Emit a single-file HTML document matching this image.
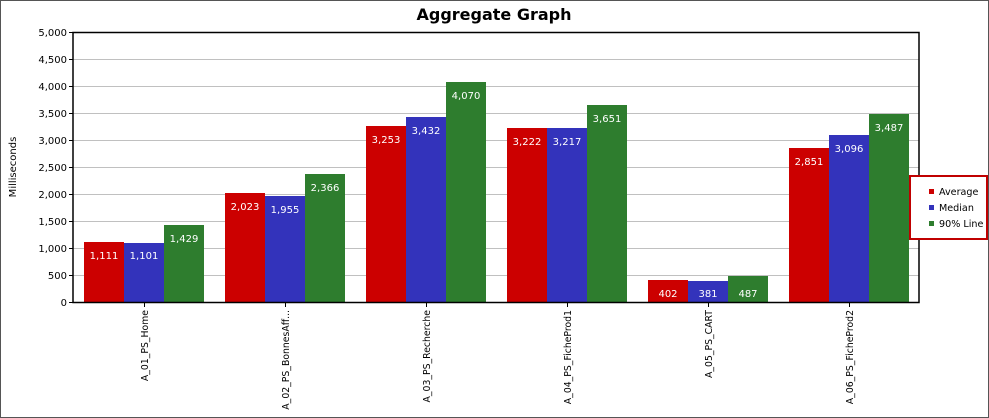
<!DOCTYPE html>
<html><head><meta charset="utf-8"><style>
body{margin:0;background:#fff}
svg{display:block;font-family:"DejaVu Sans","Liberation Sans",sans-serif}
</style></head><body>
<svg width="989" height="418" viewBox="0 0 989 418" xmlns="http://www.w3.org/2000/svg">
<rect x="0.5" y="0.5" width="988" height="417" fill="#fff" stroke="#555" stroke-width="1"/>
<text x="494" y="20" text-anchor="middle" font-size="16" font-weight="bold" fill="#000">Aggregate Graph</text>
<text transform="translate(16,167) rotate(-90)" text-anchor="middle" font-size="10" fill="#000">Milliseconds</text>
<g stroke="#c0c0c0" stroke-width="1">
<line x1="73" x2="919" y1="275.5" y2="275.5"/><line x1="73" x2="919" y1="248.5" y2="248.5"/>
<line x1="73" x2="919" y1="221.5" y2="221.5"/><line x1="73" x2="919" y1="194.5" y2="194.5"/>
<line x1="73" x2="919" y1="167.5" y2="167.5"/><line x1="73" x2="919" y1="140.5" y2="140.5"/>
<line x1="73" x2="919" y1="113.5" y2="113.5"/><line x1="73" x2="919" y1="86.5" y2="86.5"/>
<line x1="73" x2="919" y1="59.5" y2="59.5"/>
</g>
<g font-size="10" fill="#000" text-anchor="end">
<text x="67" y="306">0</text><text x="67" y="279">500</text><text x="67" y="252">1,000</text>
<text x="67" y="225">1,500</text><text x="67" y="198">2,000</text><text x="67" y="171">2,500</text>
<text x="67" y="144">3,000</text><text x="67" y="117">3,500</text><text x="67" y="90">4,000</text>
<text x="67" y="63">4,500</text><text x="67" y="36">5,000</text>
</g>
<g stroke="#000"><line x1="69" x2="73" y1="302.5" y2="302.5"/><line x1="69" x2="73" y1="275.5" y2="275.5"/><line x1="69" x2="73" y1="248.5" y2="248.5"/><line x1="69" x2="73" y1="221.5" y2="221.5"/><line x1="69" x2="73" y1="194.5" y2="194.5"/><line x1="69" x2="73" y1="167.5" y2="167.5"/><line x1="69" x2="73" y1="140.5" y2="140.5"/><line x1="69" x2="73" y1="113.5" y2="113.5"/><line x1="69" x2="73" y1="86.5" y2="86.5"/><line x1="69" x2="73" y1="59.5" y2="59.5"/><line x1="69" x2="73" y1="32.5" y2="32.5"/></g>
<g font-size="10" fill="#fff" text-anchor="middle">
<rect x="84" y="242" width="40" height="60" fill="#cc0000"/><rect x="124" y="243" width="40" height="59" fill="#3333bb"/><rect x="164" y="225" width="40" height="77" fill="#2e7d2e"/>
<text x="104" y="259">1,111</text><text x="144" y="259">1,101</text><text x="184" y="242">1,429</text>
<rect x="225" y="193" width="40" height="109" fill="#cc0000"/><rect x="265" y="196" width="40" height="106" fill="#3333bb"/><rect x="305" y="174" width="40" height="128" fill="#2e7d2e"/>
<text x="245" y="210">2,023</text><text x="285" y="213">1,955</text><text x="325" y="191">2,366</text>
<rect x="366" y="126" width="40" height="176" fill="#cc0000"/><rect x="406" y="117" width="40" height="185" fill="#3333bb"/><rect x="446" y="82" width="40" height="220" fill="#2e7d2e"/>
<text x="386" y="143">3,253</text><text x="426" y="134">3,432</text><text x="466" y="99">4,070</text>
<rect x="507" y="128" width="40" height="174" fill="#cc0000"/><rect x="547" y="128" width="40" height="174" fill="#3333bb"/><rect x="587" y="105" width="40" height="197" fill="#2e7d2e"/>
<text x="527" y="145">3,222</text><text x="567" y="145">3,217</text><text x="607" y="122">3,651</text>
<rect x="648" y="280" width="40" height="22" fill="#cc0000"/><rect x="688" y="281" width="40" height="21" fill="#3333bb"/><rect x="728" y="276" width="40" height="26" fill="#2e7d2e"/>
<text x="668" y="297">402</text><text x="708" y="297">381</text><text x="748" y="297">487</text>
<rect x="789" y="148" width="40" height="154" fill="#cc0000"/><rect x="829" y="135" width="40" height="167" fill="#3333bb"/><rect x="869" y="114" width="40" height="188" fill="#2e7d2e"/>
<text x="809" y="165">2,851</text><text x="849" y="152">3,096</text><text x="889" y="131">3,487</text>
</g>
<rect x="73" y="32.5" width="846" height="270" fill="none" stroke="#000" stroke-width="1.5"/>
<g stroke="#000"><line x1="144.5" x2="144.5" y1="303" y2="307"/><line x1="285.5" x2="285.5" y1="303" y2="307"/><line x1="426.5" x2="426.5" y1="303" y2="307"/><line x1="567.5" x2="567.5" y1="303" y2="307"/><line x1="708.5" x2="708.5" y1="303" y2="307"/><line x1="849.5" x2="849.5" y1="303" y2="307"/></g>
<g font-size="9.3" fill="#000" text-anchor="end">
<text transform="translate(148,310) rotate(-90)">A_01_PS_Home</text>
<text transform="translate(289,310) rotate(-90)">A_02_PS_BonnesAff...</text>
<text transform="translate(430,310) rotate(-90)">A_03_PS_Recherche</text>
<text transform="translate(571,310) rotate(-90)">A_04_PS_FicheProd1</text>
<text transform="translate(712,310) rotate(-90)">A_05_PS_CART</text>
<text transform="translate(853,310) rotate(-90)">A_06_PS_FicheProd2</text>
</g>
<rect x="910" y="176" width="77" height="63" fill="#fff" stroke="#c00000" stroke-width="2"/>
<rect x="929" y="189" width="5" height="5" fill="#cc0000"/><text x="939" y="195" font-size="9.6">Average</text>
<rect x="929" y="205" width="5" height="5" fill="#3333bb"/><text x="939" y="211" font-size="9.6">Median</text>
<rect x="929" y="221" width="5" height="5" fill="#2e7d2e"/><text x="939" y="227" font-size="9.6">90% Line</text>
</svg>
</body></html>
